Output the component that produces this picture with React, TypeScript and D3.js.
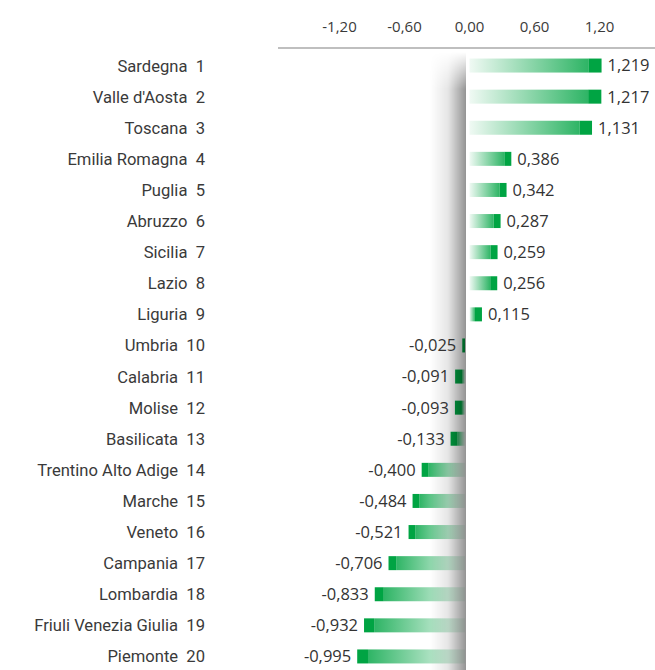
import React from "react";
import * as d3 from "d3";

const regions = [
  "Sardegna", "Valle d'Aosta", "Toscana", "Emilia Romagna", "Puglia", "Abruzzo",
  "Sicilia", "Lazio", "Liguria", "Umbria", "Calabria", "Molise", "Basilicata",
  "Trentino Alto Adige", "Marche", "Veneto", "Campania", "Lombardia",
  "Friuli Venezia Giulia", "Piemonte",
];
const ranks = [1, 2, 3, 4, 5, 6, 7, 8, 9, 10, 11, 12, 13, 14, 15, 16, 17, 18, 19, 20];
const values = [
  1.219, 1.217, 1.131, 0.386, 0.342, 0.287, 0.259, 0.256, 0.115, -0.025,
  -0.091, -0.093, -0.133, -0.4, -0.484, -0.521, -0.706, -0.833, -0.932, -0.995,
];
const ticks = [-1.2, -0.6, 0, 0.6, 1.2];

const W = 655;
const H = 670;
const GREEN = "#00a443";

const fmt = (v: number, d: number) => {
  const s = Math.abs(v).toFixed(d).replace(".", ",");
  return (v < 0 ? "-" : "") + s;
};

export default function App() {
  const x = d3.scaleLinear().domain([-1.2, 1.2]).range([339.5, 599.5]);
  const y = d3
    .scaleBand<number>()
    .domain(d3.range(regions.length))
    .range([50, 672])
    .paddingInner(0.55)
    .paddingOuter(0.275);
  const negShift = -4.5;
  const bh = y.bandwidth();
  const shadowX0 = 430;
  const shadowX1 = x(0) - 3.5;

  return (
    <svg
      width={W}
      height={H}
      style={{ position: "absolute", left: 0, top: 0, background: "#fff" }}
    >
      <defs>
        <linearGradient id="gpos" x1="0" x2="1" y1="0" y2="0">
          <stop offset="0" stopColor={GREEN} stopOpacity={0.06} />
          <stop offset="1" stopColor={GREEN} stopOpacity={0.82} />
        </linearGradient>
        <linearGradient id="gneg" x1="0" x2="1" y1="0" y2="0">
          <stop offset="0" stopColor={GREEN} stopOpacity={0.82} />
          <stop offset="1" stopColor={GREEN} stopOpacity={0.06} />
        </linearGradient>
        <linearGradient id="gshadow" x1="0" x2="1" y1="0" y2="0">
          <stop offset="0" stopColor="#000" stopOpacity={0} />
          <stop offset="0.5" stopColor="#000" stopOpacity={0.1} />
          <stop offset="1" stopColor="#000" stopOpacity={0.42} />
        </linearGradient>
        <linearGradient id="gmask" x1="0" x2="0" y1="0" y2="1">
          <stop offset="0" stopColor="#fff" stopOpacity={0} />
          <stop offset="0.06" stopColor="#fff" stopOpacity={1} />
          <stop offset="1" stopColor="#fff" stopOpacity={1} />
        </linearGradient>
        <mask id="smask" maskUnits="userSpaceOnUse" x={0} y={0} width={W} height={H}>
          <rect x={shadowX0} y={52} width={shadowX1 - shadowX0} height={H - 52} fill="url(#gmask)" />
        </mask>
      </defs>

      {/* top axis */}
      {ticks.map((t) => (
        <text
          key={t}
          x={x(t)}
          y={32}
          textAnchor="middle"
          fontFamily="'Open Sans', sans-serif"
          fontSize={15}
          fill="#3a3a3a"
        >
          {fmt(t, 2)}
        </text>
      ))}
      <line x1={278} x2={W} y1={48} y2={48} stroke="#aaa" strokeWidth={1.5} />

      {/* bars */}
      {values.map((v, i) => {
        const yy = y(i)!;
        if (v >= 0) {
          const x0 = x(0);
          const w = x(v) - x0;
          const cap = Math.min(w, Math.max(7, w * 0.1));
          return (
            <g key={i}>
              <rect x={x0} y={yy} width={w - cap} height={bh} fill="url(#gpos)" />
              <rect x={x0 + w - cap} y={yy} width={cap} height={bh} fill={GREEN} />
            </g>
          );
        }
        const x1 = x(0) + negShift;
        const x0 = x(v) + negShift;
        const w = x1 - x0;
        const cap = Math.min(w, Math.max(7, w * 0.1));
        return (
          <g key={i}>
            <rect x={x0} y={yy} width={cap} height={bh} fill={GREEN} />
            <rect x={x0 + cap} y={yy} width={w - cap} height={bh} fill="url(#gneg)" />
          </g>
        );
      })}

      {/* shadow of the right panel */}
      <rect
        x={shadowX0}
        y={52}
        width={shadowX1 - shadowX0}
        height={H - 52}
        fill="url(#gshadow)"
        mask="url(#smask)"
      />

      {/* value labels */}
      {values.map((v, i) => {
        const cy = y(i)! + bh / 2;
        const pos = v >= 0;
        return (
          <text
            key={i}
            x={pos ? x(v) + 6 : x(v) + negShift - 6}
            y={cy}
            dy="0.36em"
            textAnchor={pos ? "start" : "end"}
            fontFamily="'Open Sans', sans-serif"
            fontSize={16.5}
            fill="#333"
          >
            {fmt(v, 3)}
          </text>
        );
      })}

      {/* region labels */}
      {regions.map((r, i) => (
        <text
          key={r}
          x={205}
          y={y(i)! + bh / 2}
          dy="0.36em"
          textAnchor="end"
          fontFamily="Roboto, sans-serif"
          fontSize={16.6}
          fill="#3a3a3a"
          style={{ whiteSpace: "pre" }}
        >
          {r + "  " + ranks[i]}
        </text>
      ))}
    </svg>
  );
}
